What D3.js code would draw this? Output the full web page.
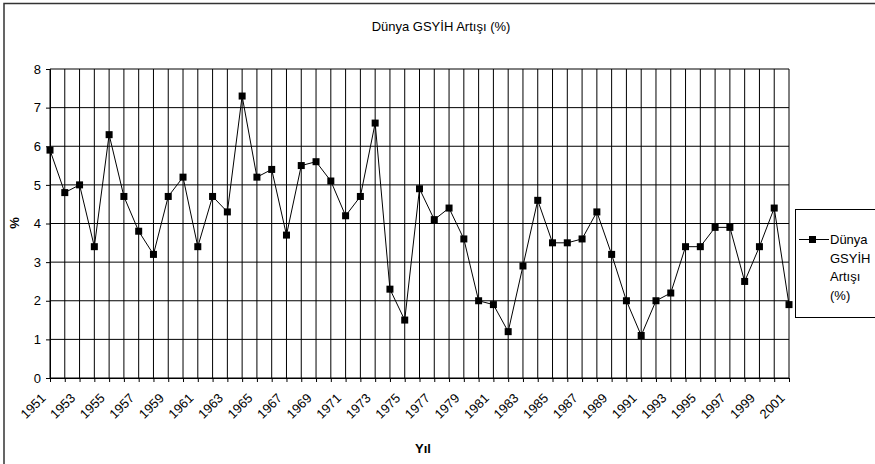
<!DOCTYPE html>
<html>
<head>
  <meta charset="utf-8" />
  <title>Dünya GSYİH Artışı (%)</title>
  <style type="text/css">
    body { margin: 0; background: #fff; font-family: 'Liberation Sans', Arial, sans-serif; }
    svg { display: block; }
  </style>
</head>
<body>
  <div id="graph"></div>
  <script src="https://cdnjs.cloudflare.com/ajax/libs/d3/7.8.5/d3.min.js"></script>
  <script>
// data
var years = d3.range(1951, 2002);
var growth = [5.9, 4.8, 5.0, 3.4, 6.3, 4.7, 3.8, 3.2, 4.7, 5.2,
              3.4, 4.7, 4.3, 7.3, 5.2, 5.4, 3.7, 5.5, 5.6, 5.1,
              4.2, 4.7, 6.6, 2.3, 1.5, 4.9, 4.1, 4.4, 3.6, 2.0,
              1.9, 1.2, 2.9, 4.6, 3.5, 3.5, 3.6, 4.3, 3.2, 2.0,
              1.1, 2.0, 2.2, 3.4, 3.4, 3.9, 3.9, 2.5, 3.4, 4.4, 1.9];
var yTicks = [0, 1, 2, 3, 4, 5, 6, 7, 8];
var yearLabels = years.filter(function(d) { return (d - 1951) % 2 === 0; });
var seriesName = ["Dünya", "GSYİH", "Artışı", "(%)"];

var W = 875, H = 464;
var plot = {left: 50, right: 789, top: 69, bottom: 378};

var svg = d3.select("#graph").append("svg")
    .attr("width", W)
    .attr("height", H);

// outer chart border
svg.append("rect")
    .attr("x", 4).attr("y", 3.5)
    .attr("width", 880).attr("height", 470)
    .attr("fill", "none")
    .attr("stroke", "#333")
    .attr("stroke-width", 1.5);

var x = d3.scaleLinear().domain([1951, 2001]).range([plot.left, plot.right]);
var y = d3.scaleLinear().domain([0, 8]).range([plot.bottom, plot.top]);

// vertical grid lines, one per year
svg.append("g").selectAll("line")
    .data(years)
  .enter().append("line")
    .attr("x1", function(d) { return x(d); })
    .attr("x2", function(d) { return x(d); })
    .attr("y1", plot.top).attr("y2", plot.bottom)
    .attr("stroke", "#000").attr("stroke-width", 1);

// horizontal grid lines
svg.append("g").selectAll("line")
    .data(yTicks)
  .enter().append("line")
    .attr("x1", plot.left).attr("x2", plot.right)
    .attr("y1", function(d) { return y(d); })
    .attr("y2", function(d) { return y(d); })
    .attr("stroke", "#000").attr("stroke-width", 1);

// y axis
var yAxis = svg.append("g")
    .attr("transform", "translate(" + plot.left + ",0)")
    .call(d3.axisLeft(y).tickValues(yTicks).tickSize(4).tickPadding(5));
yAxis.selectAll("text")
    .style("font-size", "13px")
    .style("font-family", "'Liberation Sans', Arial, sans-serif")
    .attr("fill", "#000");
yAxis.select(".domain").attr("stroke", "#000");

// x axis
var xAxis = svg.append("g")
    .attr("transform", "translate(0," + plot.bottom + ")")
    .call(d3.axisBottom(x).tickValues(years).tickSize(4)
      .tickFormat(function(d) { return yearLabels.indexOf(d) >= 0 ? d : ""; }));
xAxis.select(".domain").attr("stroke", "#000");
xAxis.selectAll("text")
    .style("font-size", "13px")
    .style("font-family", "'Liberation Sans', Arial, sans-serif")
    .attr("fill", "#000")
    .attr("text-anchor", "end")
    .attr("dy", null)
    .attr("y", 0)
    .attr("transform", "translate(-4,21) rotate(-45)");

// the series line and markers
var line = d3.line()
    .x(function(d, i) { return x(years[i]); })
    .y(function(d) { return y(d); });

svg.append("path")
    .datum(growth)
    .attr("d", line)
    .attr("fill", "none")
    .attr("stroke", "#000")
    .attr("stroke-width", 1);

svg.append("g").selectAll("rect")
    .data(growth)
  .enter().append("rect")
    .attr("x", function(d, i) { return x(years[i]) - 3.5; })
    .attr("y", function(d) { return y(d) - 3.5; })
    .attr("width", 7).attr("height", 7)
    .attr("fill", "#000");

// title and axis titles
svg.append("text")
    .attr("x", 441).attr("y", 31)
    .attr("text-anchor", "middle")
    .style("font-size", "13px")
    .text("Dünya GSYİH Artışı (%)");

svg.append("text")
    .attr("transform", "translate(19,223) rotate(-90)")
    .attr("text-anchor", "middle")
    .style("font-size", "13px")
    .style("font-weight", "bold")
    .text("%");

svg.append("text")
    .attr("x", 423).attr("y", 453)
    .attr("text-anchor", "middle")
    .style("font-size", "13px")
    .style("font-weight", "bold")
    .text("Yıl");

// legend
var legend = svg.append("g");
legend.append("rect")
    .attr("x", 795.5).attr("y", 209.5)
    .attr("width", 100).attr("height", 108)
    .attr("fill", "#fff")
    .attr("stroke", "#000")
    .attr("stroke-width", 1);
legend.append("line")
    .attr("x1", 799).attr("x2", 829)
    .attr("y1", 239.5).attr("y2", 239.5)
    .attr("stroke", "#000");
legend.append("rect")
    .attr("x", 809).attr("y", 236)
    .attr("width", 7).attr("height", 7)
    .attr("fill", "#000");
legend.selectAll("text.leg")
    .data(seriesName)
  .enter().append("text")
    .attr("class", "leg")
    .attr("x", 830)
    .attr("y", function(d, i) { return 244 + i * 18.5; })
    .style("font-size", "13px")
    .text(function(d) { return d; });
  </script>
</body>
</html>
